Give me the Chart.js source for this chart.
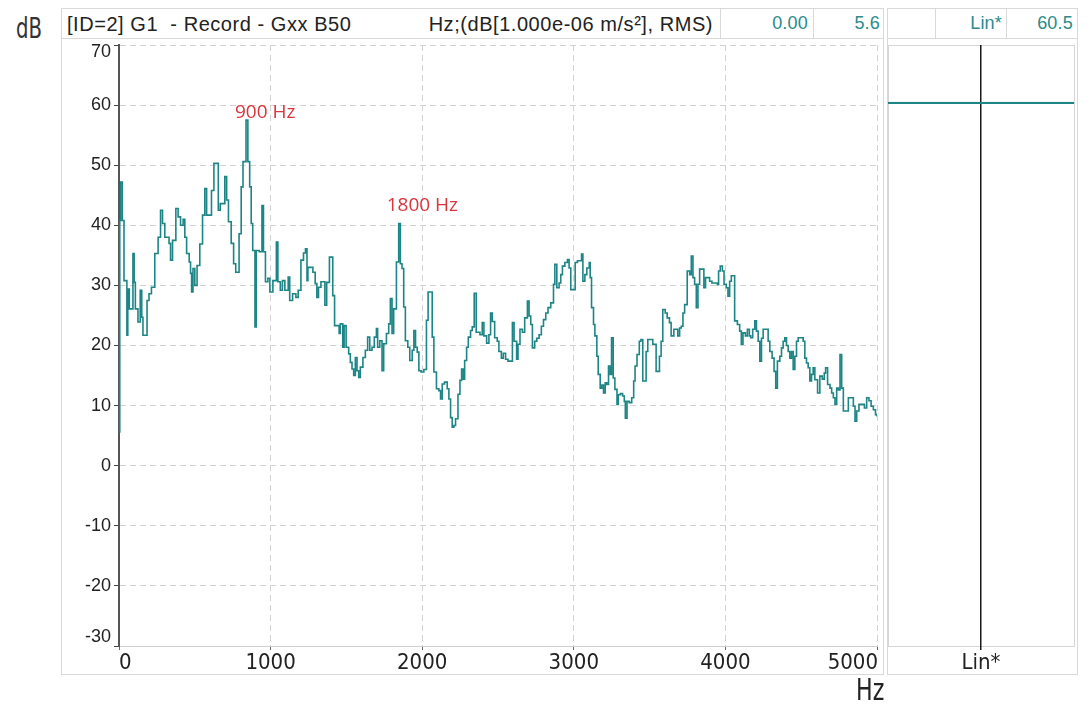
<!DOCTYPE html>
<html>
<head>
<meta charset="utf-8">
<title>G1 - Record - Gxx B50</title>
<script src="https://cdn.jsdelivr.net/npm/chart.js@4.4.1/dist/chart.umd.min.js"></script>
<style>
  html, body { margin: 0; padding: 0; background: #fff; width: 1092px; height: 706px; overflow: hidden; }
  body { position: relative; font-family: "Liberation Sans", Arial, sans-serif; color: #222; }
  .abs { position: absolute; box-sizing: border-box; }
  .narrow { font-family: "Liberation Sans Narrow", "Arial Narrow", "DejaVu Sans Condensed", sans-serif; transform-origin: 0 0; }
  .frame { border: 1px solid #d9d9d9; }
  .cell { top: 8px; height: 31px; line-height: 31px; font-size: 18px; letter-spacing: 0.2px; border-left: 1px solid #d9d9d9; text-align: right; white-space: pre; }
  .teal { color: #2a8b8b; }
  .hdrtext { top: 8px; height: 31px; line-height: 32px; font-size: 20px; letter-spacing: 0.55px; white-space: pre; }
</style>
</head>
<body>
  <!-- unit of the level axis -->
  <div class="abs narrow" style="left:16px; top:12px; font-size:28px; color:#333; transform:scaleX(0.78);">dB</div>

  <!-- spectrum panel: frame, header row and readout cells -->
  <div class="abs frame" style="left:61px; top:8px; width:823px; height:667px;"></div>
  <div class="abs" style="left:61px; top:38px; width:823px; height:1px; background:#d9d9d9;"></div>
  <div class="abs hdrtext" style="left:67px;" id="title"></div>
  <div class="abs hdrtext" style="left:380px; width:333px; text-align:right;" id="units"></div>
  <div class="abs cell teal" style="left:720px; width:93px; padding-right:5px;" id="cursorHz"></div>
  <div class="abs cell teal" style="left:813px; width:71px; padding-right:4px;" id="cursorDb"></div>

  <!-- overall level panel -->
  <div class="abs frame" style="left:887px; top:8px; width:191px; height:667px;"></div>
  <div class="abs" style="left:887px; top:38px; width:191px; height:1px; background:#d9d9d9;"></div>
  <div class="abs cell" style="left:935px; width:71px; padding-right:4px;"><span class="teal" id="linName"></span></div>
  <div class="abs cell teal" style="left:1006px; width:72px; padding-right:5px;" id="linValue"></div>
  <div class="abs" style="left:888px; top:45px; width:187px; height:602px; border:1px solid #d6d6d6;"></div>

  <div class="abs" style="left:61px; top:40px; width:822px; height:634px;">
    <canvas id="spectrum" width="822" height="634"></canvas>
  </div>
  <div class="abs" style="left:887px; top:40px; width:190px; height:634px;">
    <canvas id="overall" width="190" height="634"></canvas>
  </div>

  <!-- unit of the frequency axis -->
  <div class="abs narrow" style="left:856px; top:674px; font-size:30px; line-height:32px; color:#222; transform:scaleX(0.82);">Hz</div>

<script>
// Autospectrum of channel G1, dB re 1e-6 m/s² (RMS).
// Each entry is the frequency where a new spectral level starts (stepped trace).
const freqHz = [
  0, 5, 11, 22, 33, 52, 58, 68, 92, 100,
  108, 125, 140, 150, 158, 185, 198, 214, 236, 258,
  274, 287, 302, 330, 340, 353, 375, 390, 406, 423,
  434, 446, 463, 472, 479, 488, 500, 515, 533, 551,
  566, 578, 610, 626, 655, 668, 698, 710, 722, 740,
  756, 770, 792, 806, 818, 838, 850, 862, 872, 882,
  897, 905, 925, 943, 953, 966, 982, 995, 1015, 1038,
  1048, 1064, 1078, 1094, 1116, 1126, 1145, 1167, 1182, 1200,
  1217, 1230, 1240, 1246, 1279, 1294, 1305, 1316, 1332, 1358,
  1370, 1388, 1410, 1422, 1452, 1460, 1476, 1485, 1498, 1515,
  1526, 1537, 1548, 1559, 1570, 1581, 1592, 1609, 1625, 1640,
  1654, 1669, 1684, 1698, 1706, 1720, 1735, 1746, 1764, 1779,
  1790, 1801, 1812, 1830, 1845, 1856, 1867, 1878, 1889, 1905,
  1918, 1934, 1945, 1956, 1967, 1978, 1993, 2011, 2028, 2039,
  2066, 2077, 2094, 2110, 2121, 2132, 2147, 2165, 2176, 2187,
  2198, 2209, 2220, 2236, 2249, 2260, 2271, 2280, 2293, 2304,
  2319, 2330, 2343, 2356, 2381, 2396, 2407, 2425, 2440, 2451,
  2462, 2478, 2495, 2506, 2522, 2535, 2550, 2566, 2595, 2606,
  2623, 2632, 2645, 2661, 2676, 2694, 2705, 2716, 2727, 2742,
  2756, 2771, 2786, 2800, 2815, 2830, 2848, 2866, 2875, 2888,
  2903, 2914, 2925, 2941, 2958, 2969, 2980, 3009, 3024, 3051,
  3060, 3073, 3086, 3102, 3108, 3117, 3130, 3139, 3152, 3161,
  3174, 3185, 3196, 3207, 3218, 3229, 3240, 3249, 3260, 3271,
  3285, 3293, 3307, 3322, 3333, 3340, 3351, 3366, 3382, 3395,
  3404, 3417, 3432, 3443, 3455, 3477, 3488, 3521, 3543, 3565,
  3576, 3587, 3603, 3616, 3631, 3642, 3660, 3686, 3698, 3709,
  3720, 3731, 3748, 3764, 3775, 3786, 3797, 3808, 3819, 3830,
  3858, 3869, 3896, 3911, 3947, 3955, 3966, 3980, 3991, 4006,
  4017, 4028, 4039, 4061, 4079, 4094, 4105, 4116, 4132, 4145,
  4158, 4167, 4180, 4194, 4205, 4216, 4227, 4238, 4249, 4282,
  4293, 4308, 4321, 4332, 4343, 4359, 4370, 4381, 4392, 4403,
  4414, 4425, 4436, 4447, 4458, 4469, 4480, 4513, 4524, 4535,
  4546, 4557, 4568, 4579, 4590, 4608, 4623, 4639, 4652, 4661,
  4674, 4690, 4701, 4712, 4723, 4734, 4745, 4756, 4767, 4778,
  4811, 4844, 4855, 4866, 4881, 4917, 4932, 4947, 4961, 4976,
  4990, 5000
];

const levelDb = [
  5.6, 40.8, 47.2, 40.8, 30.8, 21.7, 29.4, 26.1, 35.3, 30.5,
  26.1, 23.9, 29.2, 24.7, 21.7, 27.5, 28.6, 29.7, 35.3, 38,
  42.5, 40.3, 38, 37, 34.2, 37.5, 42.8, 41.4, 40, 41,
  38, 35.3, 33.9, 32, 28.9, 32.8, 30, 33.3, 36.9, 41.7,
  46.1, 41.7, 45.8, 50.3, 42.5, 43.6, 48.1, 44.2, 40.6, 37,
  33.6, 32.2, 38.6, 46.4, 50.6, 57.5, 50.6, 46.4, 40.3, 35.8,
  23.1, 35.8, 35.6, 43.3, 35.6, 30.6, 31.2, 28.9, 30.8, 37.2,
  30.6, 29.2, 30.8, 29.2, 31.4, 27.5, 28.6, 28, 29.2, 34.2,
  35.4, 36.1, 30.8, 33, 32.2, 30.3, 28, 29.7, 30.6, 26.7,
  30.5, 34.7, 28.3, 23.3, 22, 23.6, 19.7, 23.3, 19.7, 18.6,
  17.2, 16.1, 15, 18, 15.8, 14.7, 16.4, 18, 19.2, 21.4,
  19.2, 19.7, 21.4, 22.8, 19.7, 20.8, 15.8, 20.3, 22, 23.6,
  27.8, 22, 26.1, 33.9, 40.3, 33.6, 32.8, 26.4, 20.8, 19.7,
  17.5, 19.2, 22.5, 19.7, 18.9, 15.8, 15.6, 16, 24.2, 28.9,
  21.4, 15.6, 12.8, 12.5, 11.1, 13.6, 13.9, 12.8, 11.1, 8,
  6.4, 6.7, 7.8, 11.9, 14.2, 16.1, 14.4, 17.5, 19.7, 21.4,
  22.5, 23.1, 28.7, 22.2, 21.8, 23.8, 21.6, 20.4, 21.8, 25.4,
  24, 21.3, 20.7, 19, 17.9, 18.7, 17.7, 17.4, 23.8, 20.7,
  17.7, 20.2, 22.7, 22.2, 24.6, 27.4, 24.9, 23.5, 19.6, 20.7,
  21.2, 21.8, 23.2, 24.3, 25.4, 26.3, 27.1, 30.2, 33.5, 29.6,
  30.4, 31.8, 33.2, 33.8, 34.3, 32.9, 29.3, 33.8, 34.1, 35.2,
  30.7, 31.8, 32.9, 33.8, 31.3, 26.3, 23.5, 21.6, 18.2, 15.2,
  12.9, 13.4, 12.1, 13.8, 13.5, 16.6, 15.2, 21.3, 14.6, 12.7,
  10.2, 11.8, 12, 11.6, 10.7, 7.9, 10.7, 10.5, 11.3, 14.1,
  16.6, 18.5, 20.7, 21, 14.1, 19, 21, 20.2, 15.7, 18.2,
  20.7, 26, 25.4, 24.6, 23.8, 21.6, 22.7, 21.6, 22.9, 23.2,
  25.4, 26.8, 32.4, 31.8, 34.9, 31.3, 30.2, 26.3, 30.2, 32.7,
  29.6, 31.3, 30.7, 30.4, 30.1, 32.4, 33.2, 32.4, 30.2, 29.6,
  28.2, 30.7, 31.6, 24.1, 23.5, 22.4, 20.2, 22.1, 21.6, 22.7,
  21.6, 21.3, 22.7, 24.1, 22.4, 20.7, 17.4, 21.2, 22.7, 20.7,
  19, 17.9, 15.7, 12.9, 17.4, 18.2, 19.6, 20.7, 21.3, 20,
  19, 17.9, 19, 16, 18.2, 20.7, 21.3, 20.7, 17.9, 17.1,
  16.3, 14.1, 15.2, 16.3, 14.3, 12.1, 14.9, 14.4, 15.4, 16.3,
  13.5, 12.9, 12.1, 11.3, 10.2, 12.9, 12.6, 18.5, 12.9, 9.1,
  11.3, 9.9, 7.4, 9.1, 10.2, 9.6, 11.3, 10.8, 9.9, 9.3,
  8.5, 8.2
];

// Overall (linear-weighted) level shown in the side panel
const overallNames = ['Lin*'];
const overallDb = [60.5];

// Axis ranges and ticks
const freqRange = [0, 5000];
const freqStep = 1000;
const dbRange = [-30, 70];
const dbStep = 10;

// Peak annotations: text, peak frequency, and the level the text sits at
const peakText = ['900 Hz', '1800 Hz'];
const peakHz = [844, 1845];
const peakTextDb = [58.7, 43.2];

// Header texts
const titleText = '[ID=2] G1  - Record - Gxx B50';
const unitsText = 'Hz;(dB[1.000e-06 m/s\u00B2], RMS)';

document.getElementById('title').textContent = titleText;
document.getElementById('units').textContent = unitsText;
document.getElementById('cursorHz').textContent = freqHz[0].toFixed(2);
document.getElementById('cursorDb').textContent = levelDb[0].toFixed(1);
document.getElementById('linName').textContent = overallNames[0];
document.getElementById('linValue').textContent = overallDb[0].toFixed(1);

const TEAL = '#1d8585';
const GRID = '#d2d2d2';
const NARROW = '"Liberation Sans Narrow", "Arial Narrow", "DejaVu Sans Condensed", sans-serif';
const SANS = '"Liberation Sans", Arial, sans-serif';

// Tick labels are drawn here so the end labels stay inside the plot edges.
const edgeLabels = {
  id: 'edgeLabels',
  afterDraw(chart, args, opts) {
    const { ctx, chartArea: a } = chart;
    ctx.save();
    ctx.fillStyle = '#222';
    if (opts.y) {
      const s = chart.scales.y;
      ctx.font = '18px ' + SANS;
      ctx.textAlign = 'right';
      ctx.textBaseline = 'middle';
      s.ticks.forEach(t => {
        let py = s.getPixelForValue(t.value);
        py = Math.min(Math.max(py, a.top + 7), a.bottom - 9);
        ctx.fillText(String(t.value), a.left - 8, py);
      });
    }
    if (opts.x) {
      const s = chart.scales.x;
      ctx.font = '22px ' + NARROW;
      ctx.textAlign = 'left';
      ctx.textBaseline = 'middle';
      s.ticks.forEach(t => {
        const txt = s.type === 'category' ? chart.data.labels[t.value] : String(t.value);
        const w = ctx.measureText(txt).width;
        const px = s.getPixelForValue(t.value);
        let left = px - w / 2;
        if (opts.clamp) left = Math.min(Math.max(left, a.left), a.right + 1 - w);
        ctx.fillText(txt, left, a.bottom + 17);
      });
    }
    ctx.restore();
  }
};

// Red peak markers on the spectrum
const peakLabels = {
  id: 'peakLabels',
  afterDatasetsDraw(chart) {
    const { ctx, scales: { x, y } } = chart;
    ctx.save();
    ctx.font = '19px "Open Sans", "Noto Sans", sans-serif';
    ctx.fillStyle = '#d8353d';
    ctx.textAlign = 'left';
    ctx.textBaseline = 'middle';
    peakText.forEach((txt, i) => {
      ctx.fillText(txt, x.getPixelForValue(peakHz[i]) - 12, y.getPixelForValue(peakTextDb[i]));
    });
    ctx.restore();
  }
};

new Chart(document.getElementById('spectrum'), {
  type: 'line',
  data: {
    datasets: [{
      data: freqHz.map((f, i) => ({ x: f, y: levelDb[i] })),
      stepped: 'before',
      borderColor: TEAL,
      borderWidth: 1.6,
      pointRadius: 0,
      fill: false
    }]
  },
  options: {
    responsive: false,
    animation: false,
    events: [],
    layout: { padding: { top: 5, right: 6, left: 0, bottom: 0 } },
    plugins: {
      legend: { display: false },
      tooltip: { enabled: false },
      edgeLabels: { x: true, y: true, clamp: true }
    },
    scales: {
      x: {
        type: 'linear',
        min: freqRange[0],
        max: freqRange[1],
        afterFit: s => { s.height = 28; },
        ticks: { display: false, stepSize: freqStep },
        grid: { color: GRID, lineWidth: 1, borderDash: [6, 4], tickLength: 4, tickColor: '#666', tickBorderDash: [], tickWidth: 1 },
        border: { display: true, color: '#cfcfcf', width: 1, dash: [6, 4] }
      },
      y: {
        type: 'linear',
        min: dbRange[0],
        max: dbRange[1],
        afterFit: s => { s.width = 58; },
        ticks: { display: false, stepSize: dbStep },
        grid: { color: GRID, lineWidth: 1, borderDash: [6, 4], tickLength: 5, tickColor: '#444', tickBorderDash: [], tickWidth: 1 },
        border: { display: true, color: '#555', width: 2, dash: [6, 4] }
      }
    }
  },
  plugins: [edgeLabels, peakLabels]
});

new Chart(document.getElementById('overall'), {
  type: 'bar',
  data: {
    labels: overallNames,
    datasets: [{
      data: overallDb,
      backgroundColor: 'rgba(0,0,0,0)',
      borderColor: TEAL,
      borderWidth: { top: 1.5, right: 0, bottom: 0, left: 0 },
      borderSkipped: 'start',
      barPercentage: 1,
      categoryPercentage: 1
    }]
  },
  options: {
    responsive: false,
    animation: false,
    events: [],
    layout: { padding: { top: 5, right: 3, left: 1, bottom: 0 } },
    plugins: {
      legend: { display: false },
      tooltip: { enabled: false },
      edgeLabels: { x: true, y: false, clamp: false }
    },
    scales: {
      x: {
        type: 'category',
        offset: true,
        afterFit: s => { s.height = 28; },
        ticks: { display: false },
        grid: { offset: false, color: '#1a1a1a', lineWidth: 1.5, tickLength: 4, tickColor: '#1a1a1a', tickWidth: 1.5 },
        border: { display: false }
      },
      y: {
        display: false,
        min: dbRange[0],
        max: dbRange[1]
      }
    }
  },
  plugins: [edgeLabels]
});
</script>
</body>
</html>
